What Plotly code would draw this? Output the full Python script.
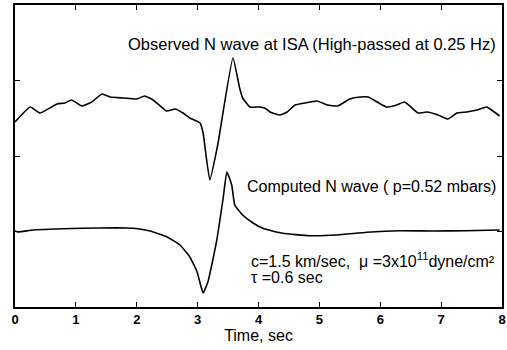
import plotly.graph_objects as go

# Observed N wave (pixel-read, converted to arbitrary units 0..4)
obs_t = [0.0, 0.25, 0.41, 0.69, 0.82, 0.93, 1.1, 1.26, 1.43, 1.56, 1.78, 2.0, 2.13, 2.27, 2.49, 2.63,
         2.76, 2.87, 3.04, 3.09, 3.2, 3.33, 3.58, 3.69, 3.74, 3.86, 4.02, 4.1, 4.19, 4.35, 4.47, 4.6,
         4.76, 4.96, 5.13, 5.3, 5.5, 5.67, 5.8, 5.95, 6.1, 6.27, 6.4, 6.62, 6.77, 6.95, 7.11, 7.26,
         7.42, 7.59, 7.75, 7.85, 7.96]
obs_px = [122, 107, 113, 104, 103, 100, 106, 102, 94, 97, 98, 99, 96, 100, 111, 109,
          113, 118, 123, 133, 180, 145, 58, 88, 98, 107, 107, 108, 112, 115, 112, 105,
          103, 101, 105, 106, 99, 97, 97, 102, 107, 105, 102, 113, 112, 115, 119, 113,
          112, 110, 107, 111, 116]
obs_v = [(307 - p) / 75.5 for p in obs_px]

# Computed N wave
cmp_t = [0.0, 0.05, 0.3, 1.1, 1.68, 1.94, 2.22, 2.49, 2.71, 2.87, 2.99, 3.04, 3.09, 3.17, 3.31,
         3.42, 3.48, 3.56, 3.61, 3.74, 3.91, 4.07, 4.4, 4.84, 5.29, 5.78, 6.32, 6.86, 7.4, 7.96]
cmp_px = [231, 232, 230, 228.3, 227.7, 228.3, 231, 236.7, 245, 256.7, 271.7, 283, 293, 281.7, 241.7,
          198, 172, 185, 205, 215, 223, 228.3, 233.3, 235.7, 235, 232.3, 230.7, 231, 230.7, 230]
cmp_v = [(307 - p) / 75.5 for p in cmp_px]

x_ticks = [0, 1, 2, 3, 4, 5, 6, 7, 8]
y_ticks = [0, 1, 2, 3, 4]

fig = go.Figure()
fig.add_trace(go.Scatter(x=obs_t, y=obs_v, mode="lines",
                         line=dict(color="black", width=1.6, shape="spline", smoothing=0.4)))
fig.add_trace(go.Scatter(x=cmp_t, y=cmp_v, mode="lines",
                         line=dict(color="black", width=1.6, shape="spline", smoothing=0.4)))

font = dict(family="Liberation Sans, Arial, sans-serif", color="black", size=16)

fig.add_annotation(x=7.93, y=3.48, xref="x", yref="y", text="Observed N wave at ISA (High-passed at 0.25 Hz)",
                   showarrow=False, xanchor="right", yanchor="middle", font=dict(font, size=16.5))
fig.add_annotation(x=7.94, y=1.6, xref="x", yref="y", text="Computed N wave ( p=0.52 mbars)",
                   showarrow=False, xanchor="right", yanchor="middle", font=font)
fig.add_annotation(x=3.84, y=0.62, xref="x", yref="y",
                   text="c=1.5 km/sec,  \u03bc =3x10<sup>11</sup>dyne/cm\u00b2",
                   showarrow=False, xanchor="left", yanchor="middle", font=font)
fig.add_annotation(x=3.84, y=0.39, xref="x", yref="y", text="\u03c4 =0.6 sec",
                   showarrow=False, xanchor="left", yanchor="middle", font=font)

fig.update_layout(
    width=507, height=350,
    margin=dict(l=15, r=5, t=5, b=43, autoexpand=False),
    paper_bgcolor="white", plot_bgcolor="white",
    showlegend=False,
    font=font,
)
fig.update_xaxes(range=[0, 8], tickvals=x_ticks, ticktext=[f"<b>{v}</b>" for v in x_ticks],
                 ticks="inside", ticklen=5, tickcolor="black", showline=True, linecolor="black", linewidth=1.5,
                 mirror="ticks", showgrid=False, zeroline=False, automargin=False,
                 title=dict(text="Time, sec", standoff=2, font=font),
                 tickfont=dict(family="Liberation Sans, Arial, sans-serif", color="black", size=13))
fig.update_yaxes(range=[0, 4], tickvals=y_ticks, showticklabels=False,
                 ticks="inside", ticklen=5, tickcolor="black", showline=True, linecolor="black", linewidth=1.5,
                 mirror="ticks", showgrid=False, zeroline=False, automargin=False)

fig.write_html("out.html", config={"displayModeBar": False},
               post_script="document.body.style.margin='0px';document.body.style.overflow='hidden';")
